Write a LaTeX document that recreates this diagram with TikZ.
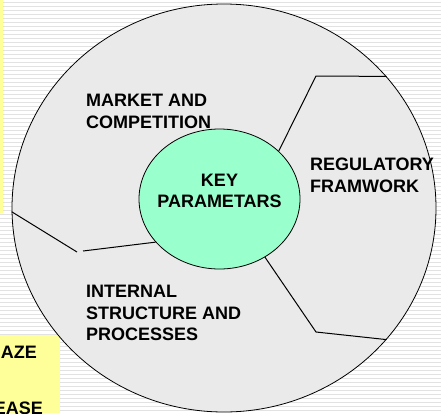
\documentclass[tikz,border=0pt]{standalone}
\usepackage{fontspec}
\setmainfont{Liberation Sans}
\usetikzlibrary{shapes.geometric}
\definecolor{slideyellow}{HTML}{FFFF99}
\definecolor{keygreen}{HTML}{99FFCC}
\definecolor{fieldgray}{HTML}{EAEAEA}
\definecolor{stripegray}{HTML}{E2E2E2}

\begin{document}
\begin{tikzpicture} [x=1pt,y=-1pt,
    field node/.style={ellipse,draw,fill=fieldgray,line width=0.8pt,
      minimum width=424pt,minimum height=408pt,inner sep=0pt},
    key node/.style={ellipse,draw,fill=keygreen,line width=0.8pt,align=center,
      font=\bfseries\fontsize{18}{21.5}\selectfont,text depth=16pt,
      inner xsep=-7pt,minimum width=161pt,minimum height=140pt},
    sector label/.style={anchor=north west,inner sep=0pt,align=left,
      font=\bfseries\fontsize{18}{21.5}\selectfont},
    cut label/.style={anchor=base east,inner sep=0pt,
      font=\bfseries\fontsize{18}{21.5}\selectfont},
    divider/.style={line width=1pt}]

  \useasboundingbox (0,0) rectangle (441,413);

  % slide background
  \foreach \y in {2,6,...,410}
    \draw[stripegray,line width=1pt] (0,\y) -- (441,\y);
  \fill[slideyellow] (0,0) rectangle (3.3,213);
  \fill[slideyellow] (0,335) rectangle (60,413);
  \node[cut label] (aze) at (37,358) {AZE};
  \node[cut label] (ease) at (43,414) {EASE};

  % the two ellipses
  \node[field node] (field) at (224,208) {};
  \node[key node] (key) at (219.5,199) {KEY\\PARAMETARS};

  % sector labels
  \node[sector label] (market) at (86,94) {MARKET AND\\COMPETITION};
  \node[sector label] (regulatory) at (310,158) {REGULATORY\\FRAMWORK};
  \node[sector label] (internal) at (86,285) {INTERNAL\\STRUCTURE AND\\PROCESSES};

  % dividers between the sectors
  \coordinate (knee_ur) at (316,76);
  \coordinate (knee_lr) at (316,332);
  \coordinate (knee_l1) at (77,252);
  \coordinate (knee_l2) at (83,251);

  \draw[divider] (key.39) -- (knee_ur) -- (field.39);
  \draw[divider] (key.-52) -- (knee_lr) -- (field.-39);
  \draw[divider] (field.181) -- (knee_l1);
  \draw[divider] (knee_l2) -- (key.214);

\end{tikzpicture}
\end{document}
